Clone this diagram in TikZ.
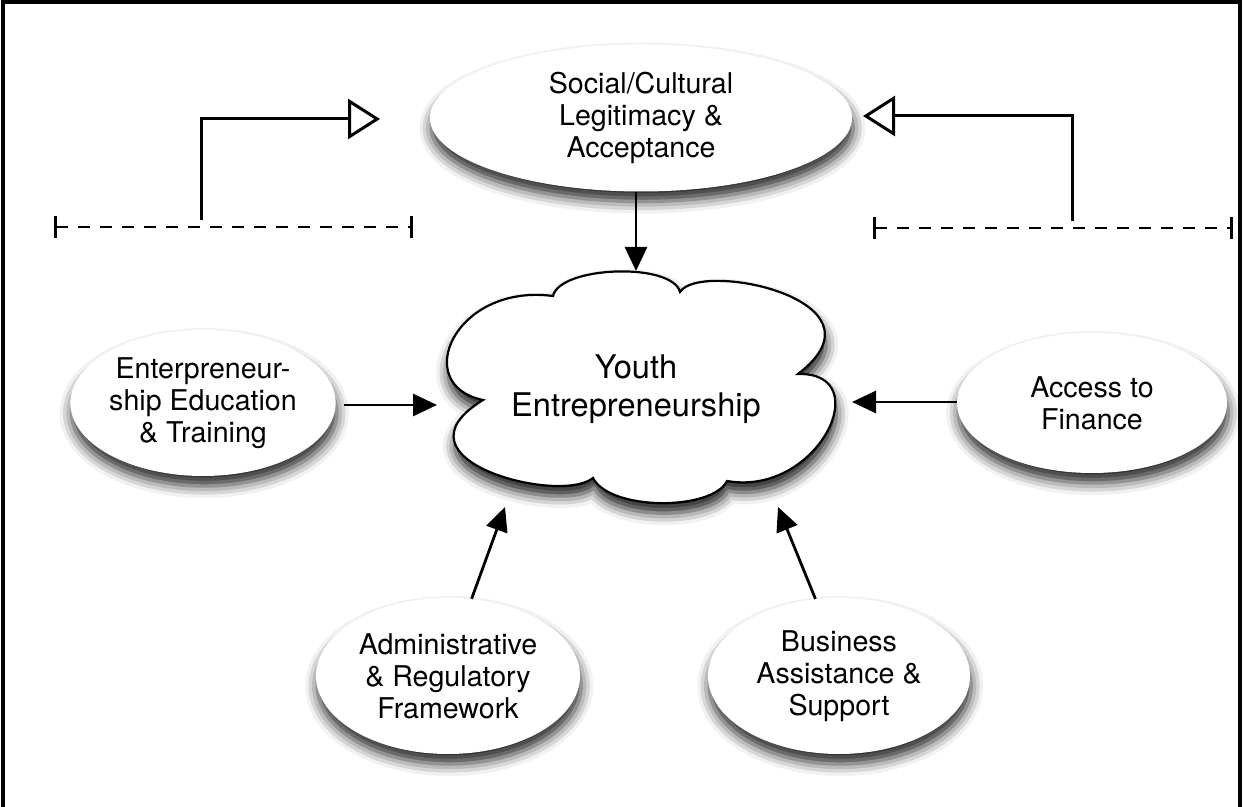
\documentclass[tikz,border=0pt]{standalone}
\usepackage{fontspec}
\setmainfont{TeX Gyre Heros}
\usetikzlibrary{arrows.meta,shapes.geometric,shadows.blur}
\begin{document}
\begin{tikzpicture}[x=0.5pt,y=-0.5pt,
  bubble/.style={ellipse, fill=white, align=center, inner sep=0pt,
    font=\fontsize{14.3}{16}\selectfont,
    blur shadow={shadow xshift=0.6pt, shadow yshift=-5pt, shadow blur radius=6pt, shadow opacity=85}},
  conn/.style={draw=black, line width=1.4pt, -{Triangle[length=12pt,width=11pt,fill=black,color=black]}},
  elbow/.style={draw=black, line width=1.5pt, -{Triangle[open,length=16pt,width=20pt]}},
  dashline/.style={draw=black, line width=1.4pt, dash pattern=on 6pt off 5pt, {Bar[width=11pt]}-{Bar[width=11pt]}},
  cloudline/.style={draw=black, line width=1.1pt, fill=white,
    blur shadow={shadow xshift=0.6pt, shadow yshift=-5pt, shadow blur radius=6pt, shadow opacity=90}},
  frame/.style={draw=black, line width=1.8pt}
]
\useasboundingbox (0,0) rectangle (1243,807);
% frame
\draw[frame] (3,830) -- (3,2) -- (1240,2) -- (1240,830);

% cloud
\path[cloudline] (553,296) .. controls (560,266) and (672,262) .. (680,292)
 .. controls (700,260) and (895,300) .. (798,374)
 .. controls (878,372) and (818,497) .. (727,481)
 .. controls (712,511) and (610,511) .. (593,478)
 .. controls (560,505) and (385,460) .. (483,400)
 .. controls (410,385) and (455,283) .. (553,296) -- cycle;
\node[align=center, font=\fontsize{16.3}{19}\selectfont] (youth) at (636,389) {Youth\\Entrepreneurship};

% ellipses
\node[bubble, minimum width=211pt, minimum height=73.5pt] (social) at (641,118) {Social/Cultural\\Legitimacy \&\\Acceptance};
\node[bubble, minimum width=127pt, minimum height=73pt] (edu) at (203,403) {Enterpreneur-\\ship Education\\\& Training};
\node[bubble, minimum width=135pt, minimum height=70pt] (fin) at (1092,403) {Access to\\Finance};
\node[bubble, minimum width=132pt, minimum height=78pt] (admin) at (448,676) {Administrative\\\& Regulatory\\Framework};
\node[bubble, minimum width=131pt, minimum height=78pt] (biz) at (839,676) {Business\\Assistance \&\\Support};

% arrow tips at the cloud
\coordinate (ttop) at (636,271);
\coordinate (tleft) at (437,405);
\coordinate (tright) at (852,402);
\coordinate (tadmin) at (505,507);
\coordinate (tbiz) at (778,507);

\draw[conn] (social.south -| ttop) -- (ttop);
\draw[conn, shorten <=4pt] (edu.east |- tleft) -- (tleft);
\draw[conn] (fin.west |- tright) -- (tright);
\draw[conn] (admin.73) -- (tadmin);
\draw[conn] (biz.107) -- (tbiz);

% brackets
\coordinate (lb1) at (54,227);
\coordinate (lb2) at (413,227);
\coordinate (lbmid) at (201,220);
\coordinate (ltip) at (380,119);
\coordinate (rb1) at (873,228);
\coordinate (rb2) at (1233,228);
\coordinate (rbmid) at (1072,221);
\coordinate (rtip) at (863,116);
\draw[dashline] (lb1) -- (lb2);
\draw[dashline] (rb1) -- (rb2);
\draw[elbow] (lbmid) |- (ltip);
\draw[elbow] (rbmid) |- (rtip);
\end{tikzpicture}
\end{document}
